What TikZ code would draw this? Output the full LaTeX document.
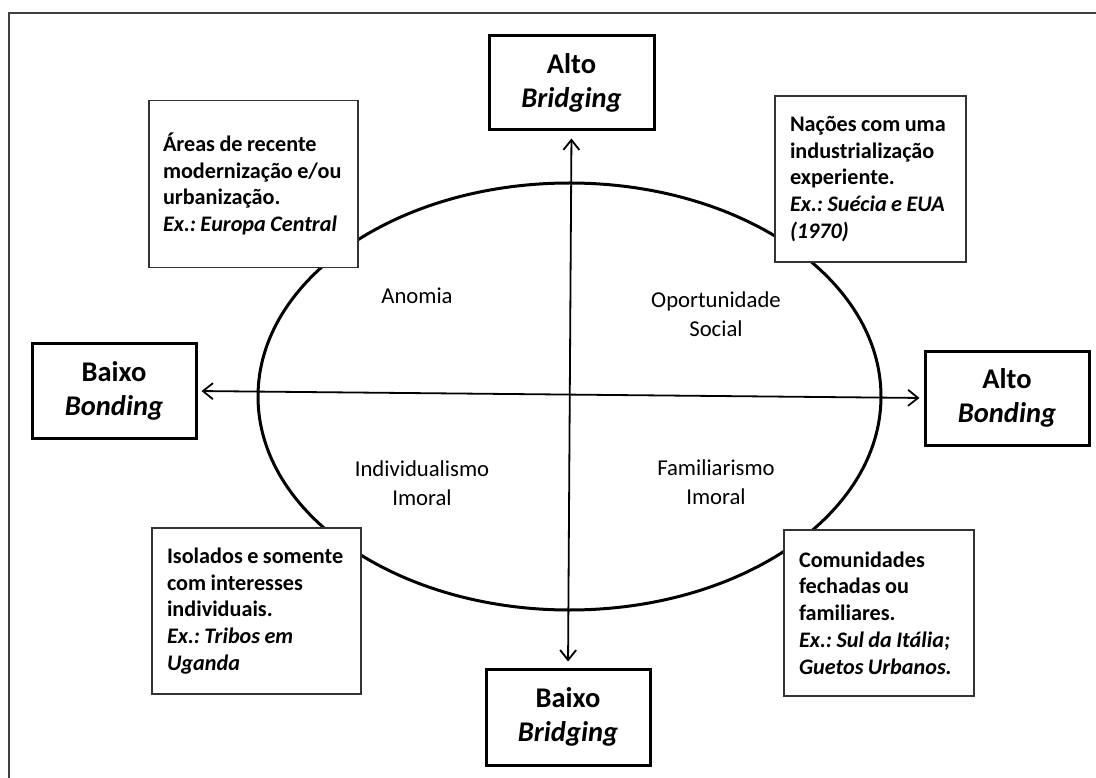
\documentclass[tikz,border=0pt]{standalone}
\usepackage{fontspec}
\setmainfont{Carlito}
\usetikzlibrary{arrows.meta}
\begin{document}
\begin{tikzpicture}[x=1pt,y=-1pt,
  mainbox/.style={draw=black, line width=3pt, fill=white, align=center, inner sep=0pt,
    font=\fontsize{28.5}{34}\selectfont\bfseries},
  notebox/.style={draw=black!80, line width=1.3pt, fill=white, align=left, inner ysep=0pt,
    font=\fontsize{22.2}{26.75}\selectfont\bfseries,
    execute at begin node={\spaceskip=0.2em\relax\xspaceskip=0.2em\relax}},
  quad/.style={align=center, inner sep=0pt, font=\fontsize{22.7}{29}\selectfont},
  axis/.style={line width=1.8pt, {Straight Barb[length=10pt,width=16pt]}-{Straight Barb[length=10pt,width=16pt]}}
]
\useasboundingbox (0,0) rectangle (1096,778);
\draw[black!75, line width=1.4pt] (9,790) -- (9,13) -- (1110,13);

\coordinate (c) at (569.5,396.5);
\draw[line width=3pt] (c) ellipse [x radius=311.5pt, y radius=213.5pt];

\node[mainbox, minimum width=165pt, minimum height=94pt] (ab) at (571.5,83) {Alto\\\textit{Bridging}};
\node[mainbox, minimum width=164pt, minimum height=96pt] (bb) at (568,717) {Baixo\\\textit{Bridging}};
\node[mainbox, minimum width=164pt, minimum height=94pt] (bl) at (114,391) {Baixo\\\textit{Bonding}};
\node[mainbox, minimum width=164pt, minimum height=94pt] (br) at (1007,398) {Alto\\\textit{Bonding}};

\draw[axis, shorten <=7pt, shorten >=6pt] (ab.south) -- (bb.north);
\draw[axis, shorten <=4pt, shorten >=4pt] (bl.east) -- (br.west);

\node[notebox, minimum width=209pt, minimum height=167pt, inner xsep=14pt, text width=181pt] (tl) at (253.5,184)
  {Áreas de recente\\modernização e/ou\\urbanização.\\\textit{Ex.: Europa Central}};
\node[notebox, minimum width=191pt, minimum height=166pt, inner xsep=15pt, text width=161pt] (tr) at (870.5,179)
  {Nações com uma\\industrialização\\experiente.\\\textit{Ex.: Suécia e EUA}\\\textit{(1970)}};
\node[notebox, minimum width=209pt, minimum height=166pt, inner xsep=15pt, text width=179pt] (blx) at (256.5,611)
  {Isolados e somente\\com interesses\\individuais.\\\textit{Ex.: Tribos em}\\\textit{Uganda}};
\node[notebox, minimum width=190pt, minimum height=166pt, inner xsep=15pt, text width=160pt] (brx) at (879,613)
  {Comunidades\\fechadas ou\\familiares.\\\textit{Ex.: Sul da Itália;}\\\textit{Guetos Urbanos.}};

\node[quad] (q1) at (417,296) {Anomia};
\node[quad] (q2) at (716,314.5) {Oportunidade\\Social};
\node[quad] (q3) at (422,483) {Individualismo\\Imoral};
\node[quad] (q4) at (716,482) {Familiarismo\\Imoral};
\end{tikzpicture}
\end{document}
